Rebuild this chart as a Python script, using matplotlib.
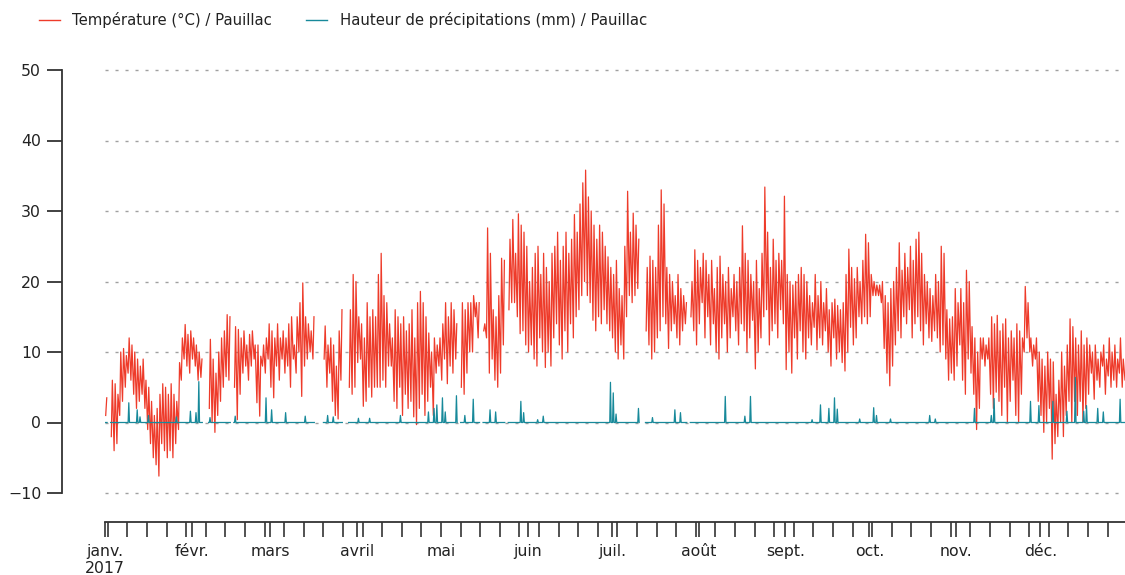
import numpy as np
import matplotlib
matplotlib.use('Agg')
import matplotlib.pyplot as plt
import matplotlib.dates as mdates
from matplotlib.lines import Line2D
from matplotlib.ticker import FuncFormatter

N = np.nan

# ---- Daily minimum / maximum temperature (°C), Pauillac 2017 ----
tmin_jan = [1, N, -2, -4, -3, 1, 3, 5, 7, 6, 4, 2, 3, 4, 2, -1, -3, -5, -6, -7.6, -3, -4, -5, -4, -5, -3, -1, 6, 9, 8, 7]
tmax_jan = [3.5, N, 6, 5.5, 4, 10, 10.5, 9.5, 12, 11, 10, 9, 8, 9, 6, 5, 3, 1, 2, 4, 5.5, 5, 4, 5.5, 4, 3, 8.5, 12, 13.9, 12.5, 13]
tmin_feb = [9, 8, 6, 6.4, N, N, 2, 0, -1.4, 1, 3, 5, 6.5, 6, N, 5, 0.4, 4, 7, 8, 6, 8, 9, 2.8, 0.9, 8, 7, 9]
tmax_feb = [12, 11, 10, 9, N, N, 11.8, 9, 7, 10, 12, 13, 15.3, 15, N, 13.6, 13.2, 12, 13, 11, 12.5, 13, 11, 11, 9.4, 11, 12, 14]
tmin_mar = [5, 3.5, 8, 6, 9, 7, 8, 5, 9, 7, 10, 3.7, 8, 9, 10, 9, N, N, N, 9, 5, 7, 3, 1, 0.5, 6, N, N, 5, 4, 5]
tmax_mar = [13, 12, 14, 12, 13, 12, 14, 15, 11, 15, 17, 19.8, 15, 14, 13, 15, N, N, N, 13.7, 11, 12, 11, 8, 13, 16, N, N, 16, 21, 20]
tmin_apr = [8.5, 9, 2.3, 3, 5, 3.6, 5, 5, 5, 6, 5, 8, 8, 3, 2, 5, 1, 4, 2, 3, 0.8, -0.3, 2, 4, 1, 3, 5, 1, 7, 8]
tmax_apr = [15, 14, 12, 17, 15, 16, 15, 21, 24, 18, 17, 14, 12, 16, 15, 14, 15, 13, 14, 16, 12, 17, 18.6, 17, 15, 12.7, 10, 12, 11, 12]
tmin_may = [6, 9, 5.5, 8, 7, 9, N, 5, 4, 7, 10, 10, 15, 12, N, 13, 12, 7, 9, 6, 5, 7, 11, N, 16, 17, 17, 15, 12.6, 13, 11]
tmax_may = [14, 17, 15, 17, 16, 14, N, 17, 16, 17, 17, 18, 17, 17, N, 14, 27.6, 24, 16, 15, 18, 23.3, 23, N, 26, 28.8, 24, 29.6, 28, 27, 25]
tmin_jun = [10, 11, 9, 8, 12, 10, 7.8, 10, 8, 12, 14, 11, 9, 13, 10, 14, 12, 15, 16, 18, 20, 18, 17, 14.5, 13, 15, 14, 16, 14, 13]
tmax_jun = [20, 22, 24, 25, 21, 24, 22, 20, 24, 25, 27, 23, 25, 27, 24, 26, 29.5, 27, 31, 34, 35.8, 32, 30, 28, 26, 28, 27, 25, 23.5, 22]
tmin_jul = [12, 10, 9, 11, 9, 15, 18, 17, 18, 19, N, N, 13, 11, 9, 10, 12, 13, 15, 14, 10.5, 13, 14, 12, 11, 13, 14, N, 15, 13, 11]
tmax_jul = [21, 23, 19, 18, 25, 32.8, 27, 29.7, 28, 26, N, N, 22, 23.6, 23, 22, 28, 33, 31, 22, 21, 20, 18, 21, 19, 18, 17, N, 20, 24.5, 23]
tmin_aug = [14, 17, 12, 15, 11, 14, 10, 9, 12, 14, 10, 12, 15, 13, 11, 14, 13, 10, 12, 14.5, 7.6, 10, 12, 15, 16, 11, 13, 14, 12, 16, 14]
tmax_aug = [22, 24, 23, 21, 23, 19, 22, 23.6, 21, 20, 22, 19, 21, 20, 22, 27.9, 24, 23, 21, 20, 23, 19, 24, 33.4, 27, 22, 26, 23, 24, 23, 32.1]
tmin_sep = [7.5, 10, 7, 12, 9, 13, 10, 9, 12, 11, 13.5, 10.3, 12, 11, 13, 10, 8, 12, 9, 10, 8.5, 7.3, 10, 13.5, 11, 12, 15, 14, 15, 14]
tmax_sep = [21, 20, 19.5, 20, 21, 22, 21, 20, 18, 17, 21, 18, 20, 17, 19, 16, 17, 17.5, 16.6, 16, 17, 21, 24.6, 22, 20.4, 22, 20, 23, 26.7, 25.5]
tmin_oct = [15, 18, 18, 18, 17, 10.5, 7, 5.2, 8, 11, 13, 12, 15, 14, 16, 12, 14, 15, 13, 11, 14, 12, 11.5, 13, 12, 10, 11, 9, 6, 7, 6]
tmax_oct = [21, 20, 19.5, 19.5, 20, 18, 17, 19, 20, 22, 25.5, 21.6, 24, 22, 25, 23, 26, 27, 24, 21, 20, 19, 18, 21, 20, 25, 24, 16, 14.7, 15, 19]
tmin_nov = [8, 11, 6, 4, 9, 7, 4, -1, 2, 9, 8, 9, 4, 2, 4.3, 3, 1, 5, 0, 3, 6, 1, 0, 4, 10, 12, 10, 8, 9, 3]
tmax_nov = [17, 19, 17, 21.6, 20, 13.6, 12, 10, 12, 12, 11, 12, 15, 14, 15.2, 13, 14, 14.7, 12, 13, 12, 14, 13, 12, 19.3, 17, 12, 11, 12, 10]
tmin_dec = [1, -1.4, 0, 2, -5.2, -3, -2, 0, -2, 1, 3, 0, 3, 1, 3, 0, 2, 4, 7, 3.3, 6, 5, 8, 4, 6.6, 5, 6, 5, 7, 5, 6]
tmax_dec = [9, 8, 10, 9, 8.6, 4, 6, 10, 8, 11, 14.7, 13.6, 12, 11, 13, 11, 12, 11, 10, 11, 9, 10, 11, 9, 12, 10, 11, 9, 12, 9, 8]

# ---- Precipitation events (day of year, 0 = 1 Jan ; mm) ----
rain_day = [8, 11, 12, 15, 25, 30, 32, 33, 37, 46, 57, 59, 64, 71, 79, 81, 90, 94, 105, 115,
            117, 118, 120, 121, 125, 128, 131, 137, 139, 148, 149, 154, 156, 180, 181, 182, 190, 195, 203, 205,
            221, 228, 230, 252, 255, 258, 260, 261, 269, 274, 275, 280, 294, 296, 310, 316, 317, 330, 333, 338,
            343, 346, 349, 350, 354, 356, 362]
rain_mm = [2.8, 1.8, 0.8, 1.0, 0.8, 1.6, 1.4, 5.8, 0.7, 0.9, 3.5, 1.8, 1.4, 0.9, 1.0, 0.8, 0.6, 0.6, 1.0, 1.5,
           2.0, 2.5, 3.5, 1.5, 3.8, 1.0, 3.3, 1.8, 1.5, 3.0, 1.4, 0.4, 0.9, 5.7, 4.2, 1.2, 2.0, 0.7, 1.8, 1.4,
           3.7, 0.9, 3.7, 0.4, 2.5, 2.0, 3.5, 1.9, 0.5, 2.1, 1.0, 0.5, 1.0, 0.5, 2.0, 1.0, 3.4, 3.0, 2.4, 3.0,
           1.6, 6.4, 1.6, 2.4, 2.0, 1.5, 3.3]

months_fr = ['janv.', 'févr.', 'mars', 'avril', 'mai', 'juin', 'juil.', 'août', 'sept.', 'oct.', 'nov.', 'déc.']
label_temp = 'Température (°C) / Pauillac'
label_rain = 'Hauteur de précipitations (mm) / Pauillac'

c_temp = '#ee3b2a'
c_rain = '#17899a'

tmin = np.array(tmin_jan + tmin_feb + tmin_mar + tmin_apr + tmin_may + tmin_jun +
                tmin_jul + tmin_aug + tmin_sep + tmin_oct + tmin_nov + tmin_dec, dtype=float)
tmax = np.array(tmax_jan + tmax_feb + tmax_mar + tmax_apr + tmax_may + tmax_jun +
                tmax_jul + tmax_aug + tmax_sep + tmax_oct + tmax_nov + tmax_dec, dtype=float)
ndays = len(tmin)
days = np.arange(ndays)
base = np.datetime64('2017-01-01T00', 'h')

# temperature: morning minimum, afternoon maximum
t = np.empty(2 * ndays, dtype='datetime64[h]')
t[0::2] = base + (days * 24 + 6).astype('timedelta64[h]')
t[1::2] = base + (days * 24 + 15).astype('timedelta64[h]')
temp = np.empty(2 * ndays)
temp[0::2] = tmin
temp[1::2] = tmax

# precipitation: 6-hourly samples, event at noon
rain_daily = np.zeros(ndays)
rain_daily[np.array(rain_day)] = rain_mm
tp = base + (np.repeat(days, 4) * 24 + np.tile([0, 6, 12, 18], ndays)).astype('timedelta64[h]')
pr = np.zeros(4 * ndays)
pr[2::4] = rain_daily
pr[np.repeat(np.isnan(tmin), 4)] = np.nan

fig = plt.figure(figsize=(11.25, 5.75), dpi=100)
W, H = 1125, 575
ax = fig.add_axes([105 / W, 1 - 493 / H, 1022 / W, 423 / H])

for y in range(-10, 51, 10):
    ax.axhline(y, color='#a0a0a0', lw=1.0, ls=(0, (2.2, 5.0)), zorder=0, clip_on=False)

ax.plot(t, temp, color=c_temp, lw=0.9, zorder=2)
ax.plot(tp, pr, color=c_rain, lw=0.9, zorder=3)

ax.set_ylim(-10, 50)
ax.set_xlim(np.datetime64('2017-01-01T00'), np.datetime64('2017-12-31T23'))
ax.set_yticks(range(-10, 51, 10))

for s in ['top', 'right']:
    ax.spines[s].set_visible(False)
ax.spines['left'].set_position(('outward', 31))
ax.spines['left'].set_bounds(-10, 50)
ax.spines['bottom'].set_position(('outward', 21))
for s in ['left', 'bottom']:
    ax.spines[s].set_color('#333333')
    ax.spines[s].set_linewidth(1.3)

ax.xaxis.set_major_locator(mdates.MonthLocator())
ax.xaxis.set_minor_locator(mdates.WeekdayLocator(byweekday=mdates.MO))

def fmt(x, pos):
    d = mdates.num2date(x)
    s = months_fr[d.month - 1]
    if d.month == 1:
        s += '\n' + str(d.year)
    return s

ax.xaxis.set_major_formatter(FuncFormatter(fmt))
ax.tick_params(axis='x', which='both', length=11, width=1.2, color='#333333', direction='out')
ax.tick_params(axis='x', which='major', labelsize=11.3, labelcolor='#222222', pad=4.5)
ax.tick_params(axis='y', length=11, width=1.3, color='#333333', labelsize=11.3, labelcolor='#222222', pad=4)

handles = [Line2D([], [], color=c_temp, lw=1), Line2D([], [], color=c_rain, lw=1)]
fig.legend(handles, [label_temp, label_rain], loc='upper left', bbox_to_anchor=(39 / W, 1 - 12 / H),
           ncol=2, frameon=False, handlelength=1.4, handletextpad=0.85, columnspacing=2.3,
           borderpad=0, borderaxespad=0, fontsize=10.7, labelcolor='#222222')

fig.savefig('out.png', dpi=100)
